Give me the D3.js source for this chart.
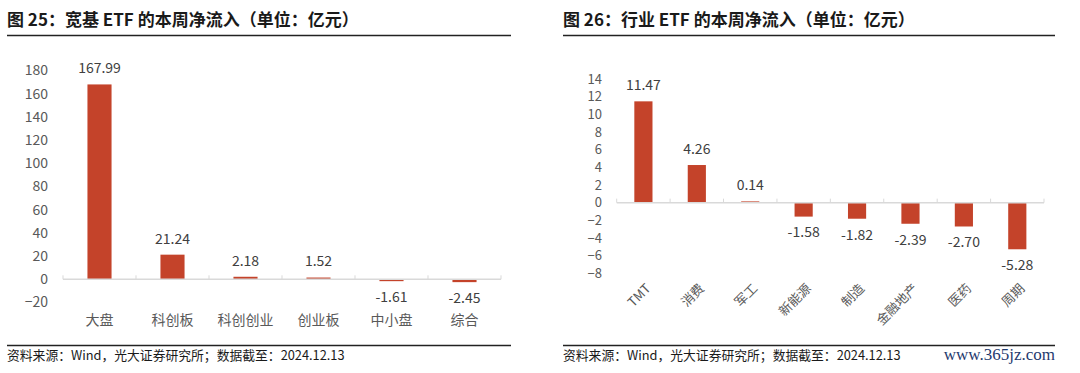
<!DOCTYPE html>
<html>
<head>
<meta charset="utf-8">
<style>
  body { margin: 0; background: #fff; }
</style>
</head>
<body>
<svg width="1080" height="373"></svg>
<script src="https://d3js.org/d3.v7.min.js"></script>
<script>
// 宽基 ETF
var broadCats = ["大盘", "科创板", "科创创业", "创业板", "中小盘", "综合"];
var broadVals = [167.99, 21.24, 2.18, 1.52, -1.61, -2.45];
var broadTicks = [-20, 0, 20, 40, 60, 80, 100, 120, 140, 160, 180];

// 行业 ETF
var indCats = ["TMT", "消费", "军工", "新能源", "制造", "金融地产", "医药", "周期"];
var indVals = [11.47, 4.26, 0.14, -1.58, -1.82, -2.39, -2.70, -5.28];
var indTicks = [-8, -6, -4, -2, 0, 2, 4, 6, 8, 10, 12, 14];

var barColor = "#c4432a";
var textColor = "#595959";
var cjk = "'Noto Sans CJK SC', 'Noto Sans', sans-serif";
var svg = d3.select("svg");

function header(x0, x1, title) {
  svg.append("text")
    .attr("x", x0).attr("y", 26)
    .style("font-family", cjk)
    .style("font-size", "17px").style("font-weight", "bold")
    .attr("fill", "#1a1a1a")
    .text(title);
  svg.append("line")
    .attr("x1", x0).attr("x2", x1).attr("y1", 35.5).attr("y2", 35.5)
    .attr("stroke", "#222").attr("stroke-width", 1.5);
  svg.append("line")
    .attr("x1", x0).attr("x2", x1).attr("y1", 345.5).attr("y2", 345.5)
    .attr("stroke", "#222").attr("stroke-width", 1.5);
  svg.append("text")
    .attr("x", x0).attr("y", 360)
    .style("font-family", cjk).style("font-size", "12.8px")
    .attr("fill", "#1a1a1a")
    .text("资料来源：Wind，光大证券研究所；数据截至：2024.12.13");
}

function barChart(o) {
  var g = svg.append("g");
  var x = d3.scaleBand().domain(o.cats).range([o.left, o.right]);
  var y = d3.scaleLinear().domain(o.domain).range([o.bottom, o.top]);
  var barW = x.step() * o.barFrac;

  // y axis labels
  var yAxis = d3.axisLeft(y).tickValues(o.ticks).tickSize(0).tickPadding(0);
  var ya = g.append("g")
    .attr("transform", "translate(" + o.labelX + ",0)")
    .call(yAxis);
  ya.select(".domain").remove();
  ya.selectAll("text")
    .style("font-family", cjk).style("font-size", o.tickFont + "px")
    .attr("fill", textColor);

  // bars
  g.selectAll("rect.bar").data(o.vals).enter().append("rect")
    .attr("x", function(d, i) { return x(o.cats[i]) + (x.bandwidth() - barW) / 2; })
    .attr("width", barW)
    .attr("y", function(d) { return y(Math.max(0, d)); })
    .attr("height", function(d) { return Math.abs(y(d) - y(0)); })
    .attr("fill", barColor);

  // zero line and category ticks
  g.append("line")
    .attr("x1", o.left).attr("x2", o.right)
    .attr("y1", y(0)).attr("y2", y(0))
    .attr("stroke", "#d9d9d9").attr("stroke-width", 1.5);
  var edges = o.cats.map(function(c) { return x(c); }).concat([o.right]);
  g.selectAll("line.tk").data(edges).enter().append("line")
    .attr("x1", function(d) { return d; }).attr("x2", function(d) { return d; })
    .attr("y1", y(0) - 4).attr("y2", y(0))
    .attr("stroke", "#d9d9d9").attr("stroke-width", 1);

  // value labels
  g.selectAll("text.val").data(o.vals).enter().append("text")
    .attr("x", function(d, i) { return x(o.cats[i]) + x.bandwidth() / 2; })
    .attr("y", function(d) { return d >= 0 ? y(d) - 16 : y(d) + 16; })
    .attr("dy", "0.35em")
    .attr("text-anchor", "middle")
    .style("font-family", cjk).style("font-size", "14px")
    .attr("fill", "#404040")
    .text(function(d) { return d.toFixed(2); });

  // category labels
  var cl = g.selectAll("text.cat").data(o.cats).enter().append("text")
    .style("font-family", cjk).style("font-size", (o.rotate ? 13 : 14) + "px")
    .attr("fill", textColor)
    .text(function(d) { return d; });
  if (o.rotate) {
    cl.attr("text-anchor", "end")
      .attr("transform", function(d) {
        return "translate(" + (x(d) + x.bandwidth() / 2 + 5) + "," + o.catY + ") rotate(-45)";
      })
      .attr("dy", "0.35em");
  } else {
    cl.attr("text-anchor", "middle")
      .attr("x", function(d) { return x(d) + x.bandwidth() / 2; })
      .attr("y", o.catY).attr("dy", "0.35em");
  }
}

header(7, 511, "图 25：宽基 ETF 的本周净流入（单位：亿元）");
header(563, 1055, "图 26：行业 ETF 的本周净流入（单位：亿元）");

barChart({
  cats: broadCats, vals: broadVals, ticks: broadTicks,
  domain: [-20, 180], top: 70.5, bottom: 302.5,
  left: 63, right: 501, labelX: 48, barFrac: 0.33,
  catY: 320, rotate: false, tickFont: 14
});

barChart({
  cats: indCats, vals: indVals, ticks: indTicks,
  domain: [-8, 14], top: 79, bottom: 273.3,
  left: 616.7, right: 1044, labelX: 602, barFrac: 0.34,
  catY: 286, rotate: true, tickFont: 13
});

svg.append("text")
  .attr("x", 1055).attr("y", 360)
  .attr("text-anchor", "end")
  .style("font-family", "'Liberation Serif', 'DejaVu Serif', serif")
  .style("font-size", "17px")
  .attr("fill", "#1f3a6e")
  .text("www.365jz.com");
</script>
</body>
</html>
